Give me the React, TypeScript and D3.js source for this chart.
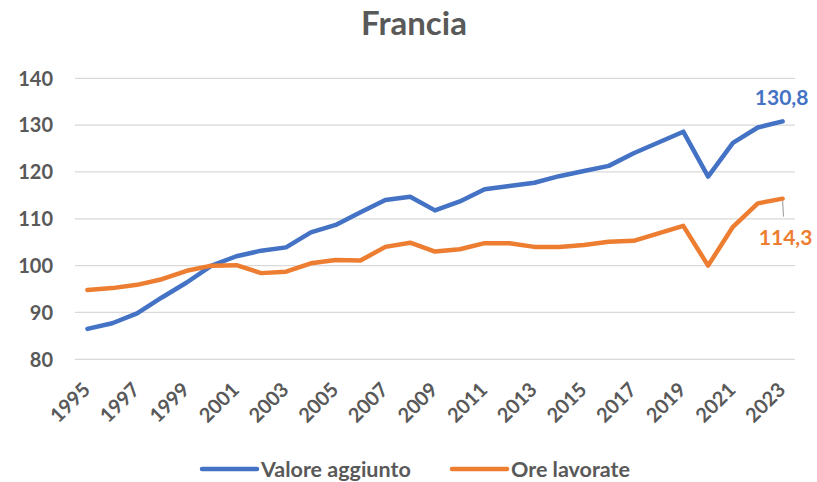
import React from "react";
import * as d3 from "d3";

const years: number[] = d3.range(1995, 2024);
const valoreAggiunto: number[] = [
  86.5, 87.7, 89.8, 93.2, 96.4, 100.0, 102.0, 103.2, 103.9, 107.1,
  108.7, 111.4, 114.0, 114.7, 111.8, 113.7, 116.3, 117.0, 117.7, 119.1,
  120.2, 121.3, 124.0, 126.3, 128.6, 119.0, 126.2, 129.5, 130.8,
];
const oreLavorate: number[] = [
  94.8, 95.2, 95.9, 97.1, 98.9, 100.0, 100.1, 98.4, 98.7, 100.5,
  101.2, 101.1, 104.0, 104.9, 103.0, 103.5, 104.8, 104.8, 104.0, 104.0,
  104.4, 105.1, 105.3, 106.9, 108.5, 100.0, 108.3, 113.3, 114.3,
];
const yTicks: number[] = [80, 90, 100, 110, 120, 130, 140];
const xTickYears: number[] = years.filter((y) => (y - 1995) % 2 === 0);
const seriesNames: string[] = ["Valore aggiunto", "Ore lavorate"];
const seriesColors: string[] = ["#4472C4", "#ED7D31"];
const title = "Francia";

const W = 817;
const H = 482;
const FONT = "Lato, 'Open Sans', sans-serif";
const TEXT = "#595959";

export default function App() {
  const x = d3
    .scaleBand<number>()
    .domain(years)
    .range([75, 795]);
  const cx = (yr: number) => (x(yr) as number) + x.bandwidth() / 2;
  const y = d3.scaleLinear().domain([80, 140]).range([359.3, 78.3]);

  const line = d3
    .line<number>()
    .x((_, i) => cx(years[i]))
    .y((d) => y(d));

  const series = [valoreAggiunto, oreLavorate];
  const lastYear = years[years.length - 1];
  const lastV = valoreAggiunto[valoreAggiunto.length - 1];
  const lastO = oreLavorate[oreLavorate.length - 1];
  const fmt = (v: number) => v.toFixed(1).replace(".", ",");

  return (
    <svg
      width={W}
      height={H}
      style={{ position: "absolute", left: 0, top: 0, background: "#fff" }}
      fontFamily={FONT}
    >
      <rect width={W} height={H} fill="#fff" />
      <text x={414} y={35} textAnchor="middle" fontSize={33} fontWeight="bold" fill={TEXT}>
        {title}
      </text>
      {yTicks.map((t) => (
        <g key={t}>
          <line x1={75} x2={795} y1={y(t)} y2={y(t)} stroke="#D9D9D9" strokeWidth={1.3} />
          <text
            x={53}
            y={y(t)}
            dy="0.36em"
            textAnchor="end"
            fontSize={20}
            fontWeight="bold"
            fill={TEXT}
          >
            {t}
          </text>
        </g>
      ))}
      {xTickYears.map((yr) => (
        <text
          key={yr}
          transform={`translate(${cx(yr) + 4},${391}) rotate(-45)`}
          textAnchor="end"
          fontSize={20}
          fontWeight="bold"
          fill={TEXT}
        >
          {yr}
        </text>
      ))}
      {series.map((s, i) => (
        <path
          key={i}
          d={line(s) as string}
          fill="none"
          stroke={seriesColors[i]}
          strokeWidth={4.5}
          strokeLinejoin="round"
          strokeLinecap="round"
        />
      ))}
      <text
        x={cx(lastYear) - 1}
        y={y(lastV) - 16}
        textAnchor="middle"
        fontSize={21}
        fontWeight="bold"
        fill={seriesColors[0]}
      >
        {fmt(lastV)}
      </text>
      <line
        x1={cx(lastYear)}
        y1={y(lastO) + 2}
        x2={cx(lastYear) + 1}
        y2={y(lastO) + 18}
        stroke="#A6A6A6"
        strokeWidth={1.2}
      />
      <text
        x={cx(lastYear) + 3}
        y={y(lastO) + 46}
        textAnchor="middle"
        fontSize={21}
        fontWeight="bold"
        fill={seriesColors[1]}
      >
        {fmt(lastO)}
      </text>
      {seriesNames.map((name, i) => {
        const lx = i === 0 ? 202 : 452;
        return (
          <g key={name}>
            <line
              x1={lx}
              x2={lx + 55}
              y1={469}
              y2={469}
              stroke={seriesColors[i]}
              strokeWidth={4.5}
              strokeLinecap="round"
            />
            <text x={lx + 59} y={477} fontSize={21.5} fontWeight="bold" fill={TEXT}>
              {name}
            </text>
          </g>
        );
      })}
    </svg>
  );
}
